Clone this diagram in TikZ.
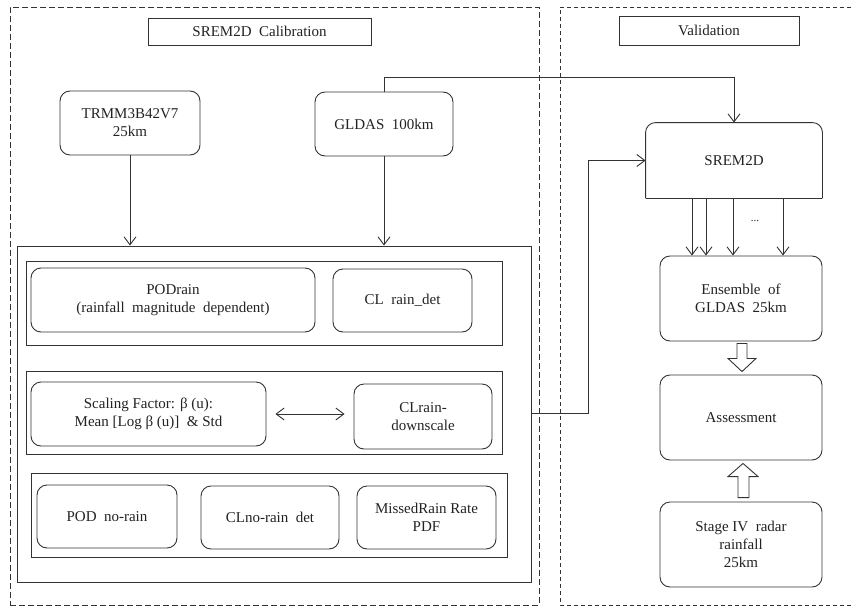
\documentclass[tikz,border=0pt]{standalone}
\usepackage{fontspec}
\setmainfont{Liberation Serif}
\usetikzlibrary{arrows.meta,calc}
\definecolor{ln}{HTML}{333333}
\definecolor{tx}{HTML}{222222}
\tikzset{
  base/.style={draw=ln, line width=0.9pt, text=tx, align=center, inner sep=0pt, font=\fontsize{15}{18}\selectfont},
  rbox/.style={base, rounded corners=10pt},
  sbox/.style={base},
  conn/.style={draw=ln, line width=0.9pt, -{Straight Barb[length=8pt,width=12pt]}},
  dconn/.style={draw=ln, line width=0.9pt, {Straight Barb[length=8pt,width=12pt]}-{Straight Barb[length=8pt,width=12pt]}},
  plain/.style={draw=ln, line width=0.9pt},
  dashl/.style={draw=ln, line width=0.8pt, dash pattern=on 6pt off 3pt},
  dashr/.style={draw=ln, line width=0.8pt, dash pattern=on 4pt off 3pt},
  hollow/.style={draw=ln, line width=0.9pt, fill=white}
}
\begin{document}
\begin{tikzpicture}[x=1pt,y=-1pt]
\useasboundingbox (0,0) rectangle (851,608);
% dashed panels
\node[dashl, minimum width=529pt, minimum height=598pt, inner sep=0pt] (leftpanel) at (274.5,306) {};
\coordinate (rtl) at (560,7);
\coordinate (rtr) at (851,7);
\coordinate (rbl) at (560,605);
\coordinate (rbr) at (851,605);
\draw[dashr] (rtr) -- (rtl) -- (rbl) -- (rbr);
% titles
\node[sbox, minimum width=223pt, minimum height=27pt] (t1) at (259.5,31.5) {SREM2D\ \ Calibration};
\node[sbox, minimum width=180pt, minimum height=29pt] (t2) at (709,30.5) {Validation};
% inputs
\node[rbox, minimum width=140pt, minimum height=64pt] (trmm) at (130,123) {TRMM3B42V7\\25km};
\node[rbox, minimum width=138pt, minimum height=64pt] (gldas) at (384,124) {GLDAS\ \ 100km};
% main box and panels
\node[sbox, minimum width=514pt, minimum height=336pt] (main) at (274,414) {};
\node[sbox, minimum width=476pt, minimum height=84pt] (p1) at (264,303) {};
\node[sbox, minimum width=476pt, minimum height=83pt] (p2) at (264,412.5) {};
\node[sbox, minimum width=476pt, minimum height=84pt] (p3) at (269,515) {};
\node[rbox, minimum width=284pt, minimum height=64pt] (podrain) at (173,300) {PODrain\\(rainfall\ \ magnitude\ \ dependent)};
\node[rbox, minimum width=139pt, minimum height=63pt] (clrain) at (402.5,300.5) {CL\ \ rain\_det};
\node[rbox, minimum width=235pt, minimum height=64pt] (scal) at (148.5,414) {Scaling Factor: β (u):\\Mean [Log β (u)] \ \& Std};
\node[rbox, minimum width=138pt, minimum height=65pt] (cldown) at (423,416.5) {CLrain-\\downscale};
\node[rbox, minimum width=140pt, minimum height=63pt] (podno) at (107,516.5) {POD\ \ no-rain};
\node[rbox, minimum width=138pt, minimum height=63pt] (clno) at (270,517.5) {CLno-rain\ \ det};
\node[rbox, minimum width=139pt, minimum height=63pt] (missed) at (426.5,517.5) {MissedRain Rate\\PDF};
% validation side
\node[base, draw=none, minimum width=176pt, minimum height=75pt] (srem) at (734,160.5) {SREM2D};
\draw[plain, rounded corners=10pt] (srem.south west) -- (srem.north west) -- (srem.north east) -- (srem.south east);
\draw[plain] (srem.south west) -- (srem.south east);
\node[rbox, minimum width=162pt, minimum height=85pt] (ens) at (741,298.5) {Ensemble\ \ of\\GLDAS\ \ 25km};
\node[rbox, minimum width=162pt, minimum height=85pt] (ass) at (741,417.5) {Assessment};
\node[rbox, minimum width=162pt, minimum height=85pt] (stage) at (741,544.5) {Stage IV\ \ radar\\rainfall\\25km};
% connectors
\draw[conn] (trmm.south) -- (trmm.south |- main.north);
\draw[conn] (gldas.south) -- (gldas.south |- main.north);
\draw[conn] (gldas.north) -- ++(0,-14) -| (srem.north);
\draw[conn] (main.east |- 0,413) -- (588,413) |- (srem.west);
\draw[dconn] ($(scal.east |- 0,414)+(9,0)$) -- ($(cldown.west |- 0,414)+(-9,0)$);
\foreach \xx in {692,706,733,783}{
  \draw[conn] (srem.south -| \xx,0) -- (ens.north -| \xx,0);
}
\node[text=tx, font=\fontsize{11}{11}\selectfont] (dots) at (755,221) {...};
% hollow block arrows
\draw[hollow] ($(ens.south)+(-4,2)$) -- ($(ens.south)+(-4,17)$) -- ($(ens.south)+(-13,17)$) -- ($(ass.north)+(1,-3)$) -- ($(ens.south)+(15,17)$) -- ($(ens.south)+(6,17)$) -- ($(ens.south)+(6,2)$) -- cycle;
\draw[hollow] ($(stage.north)+(-3,-4)$) -- ($(stage.north)+(-3,-25)$) -- ($(stage.north)+(-13,-25)$) -- ($(ass.south)+(2,3)$) -- ($(stage.north)+(17,-25)$) -- ($(stage.north)+(8,-25)$) -- ($(stage.north)+(8,-4)$) -- cycle;
\end{tikzpicture}
\end{document}
